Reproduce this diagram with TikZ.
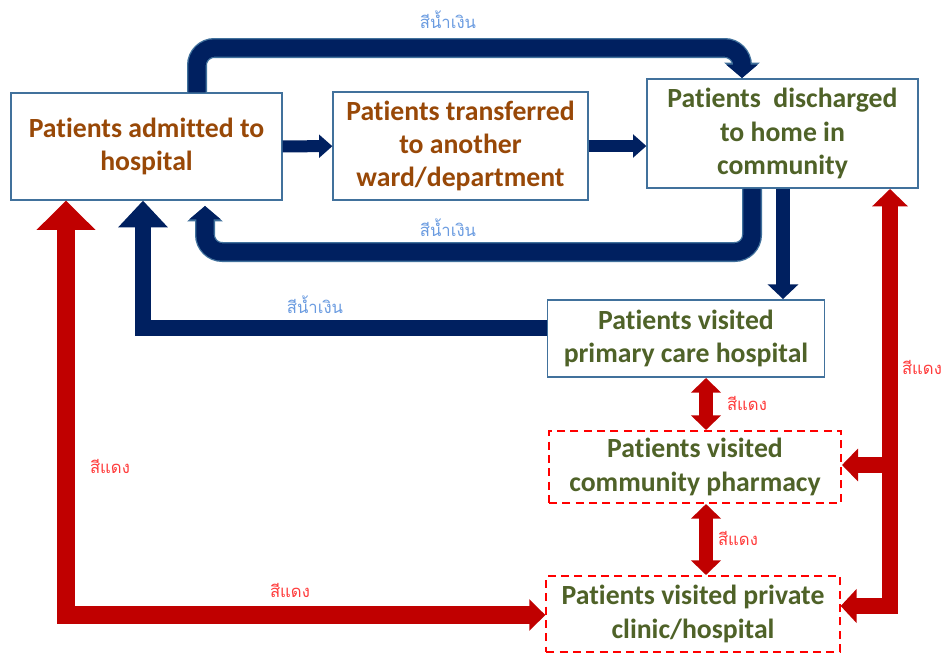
\documentclass[tikz,border=0pt]{standalone}
\usepackage{fontspec}
\setmainfont{Carlito}[Ligatures=NoCommon]
\newfontfamily\thaifont[Script=Thai]{Loma}
\usepackage{tikz}
\usetikzlibrary{positioning, arrows.meta}
\definecolor{aNavy}{HTML}{002060}
\definecolor{aRed}{HTML}{C00000}
\definecolor{bLine}{HTML}{41719C}
\definecolor{dRed}{HTML}{FF0000}
\definecolor{tBrown}{HTML}{984807}
\definecolor{tGreen}{HTML}{4F6228}
\definecolor{lBlue}{HTML}{6A9BE0}
\definecolor{lRed}{HTML}{FF3B3B}
\tikzset{
  stagebox/.style={draw=bLine, line width=1.2pt, fill=white, align=center,
    inner sep=1pt, font=\bfseries\fontsize{20.8}{25}\selectfont},
  wardbox/.style={stagebox, text=tBrown},
  homebox/.style={stagebox, text=tGreen},
  outbox/.style={homebox, draw=dRed, line width=1.5pt, dash pattern=on 6pt off 4pt},
  navyflow/.style={draw=aNavy, line width=9pt, -{Triangle[width=17pt,length=10pt]}},
  navyloop/.style={draw=aNavy, line width=13pt, rounded corners=13pt,
    -{Triangle[width=23pt,length=10pt]},
    preaction={draw=bLine, line width=15pt, -{Triangle[width=26pt,length=11.5pt]}}},
  redflow/.style={draw=aRed, line width=12pt},
  bluetag/.style={font=\thaifont\fontsize{12.5}{14}\selectfont, text=lBlue},
  redtag/.style={font=\thaifont\fontsize{12.5}{14}\selectfont, text=lRed},
}
\begin{document}
\begin{tikzpicture}[x=0.75pt, y=-0.75pt, line join=miter]
  \useasboundingbox (0,0) rectangle (942,654);
  % boxes
  \node[wardbox, minimum width=203pt, minimum height=80pt] (admit) at (146.5,146.5)
    {Patients admitted to\\hospital};
  \node[wardbox, minimum width=191pt, minimum height=81pt] (transfer) at (460.5,146)
    {Patients transferred\\to another\\ward/department};
  \node[homebox, minimum width=203pt, minimum height=82pt] (discharge) at (782.5,133.5)
    {Patients\ \ discharged\\to home in\\community};
  \node[homebox, minimum width=208pt, minimum height=58pt] (primary) at (686,338.5)
    {Patients visited\\primary care hospital};
  \node[outbox, minimum width=219pt, minimum height=54pt] (pharmacy) at (695,467)
    {Patients visited\\community pharmacy};
  \node[outbox, minimum width=220pt, minimum height=57pt] (private) at (693,614)
    {Patients visited private\\clinic/hospital};
  % bend points
  \coordinate (topL) at (197,48);
  \coordinate (topR) at (742,48);
  \coordinate (lowR) at (752,252);
  \coordinate (lowL) at (205,252);
  \coordinate (downC) at (783,250);
  \coordinate (backL) at (143,328);
  \coordinate (redL) at (66,615);
  \coordinate (redR) at (890,606);
  \coordinate (redE) at (890,465);
  \coordinate (midV) at (706,0);
  % blue arrows
  \draw[navyflow] (admit) -- (transfer);
  \draw[navyflow] (transfer.east) -- (discharge.west |- transfer.east);
  \draw[navyloop] (admit.north -| topL) -- (topL) -- (topR) -- (topR |- discharge.north);
  \draw[navyloop] (discharge.south -| lowR) -- (lowR) -- (lowL) -- ([yshift=-4]lowL |- admit.south);
  \draw[draw=aNavy, line width=11pt, -{Triangle[width=22.5pt,length=11pt]}]
    (discharge.south -| downC) -- (primary.north -| downC);
  \draw[draw=aNavy, line width=12pt, -{Triangle[width=36pt,length=20pt]}]
    (primary.west |- backL) -- (backL) -- (backL |- admit.south);
  % red arrows
  \draw[redflow, line width=13pt, {Triangle[width=23pt,length=12pt]}-{Triangle[width=43pt,length=22pt]}]
    (private.west |- redL) -- (redL) -- (redL |- admit.south);
  \draw[redflow, {Triangle[width=25pt,length=12pt]}-{Triangle[width=26pt,length=13pt]}]
    (private.east |- redR) -- (redR) -- (redR |- discharge.south);
  \draw[redflow, -{Triangle[width=24pt,length=12pt]}] (redE) -- (pharmacy.east |- redE);
  \draw[redflow, line width=11pt, {Triangle[width=22pt,length=11pt]}-{Triangle[width=22pt,length=11pt]}]
    (primary.south -| midV) -- (pharmacy.north -| midV);
  \draw[redflow, line width=11pt, {Triangle[width=22pt,length=11pt]}-{Triangle[width=22pt,length=11pt]}]
    (pharmacy.south -| midV) -- (private.north -| midV);
  % labels
  \node[bluetag] (tagTop) at (448,20) {สีน้ำเงิน};
  \node[bluetag] (tagLow) at (448,228) {สีน้ำเงิน};
  \node[bluetag] (tagBack) at (315,305) {สีน้ำเงิน};
  \node[redtag] (tagLeft) at (110,466) {สีแดง};
  \node[redtag] (tagBottom) at (290,590) {สีแดง};
  \node[redtag] (tagUp) at (747,403) {สีแดง};
  \node[redtag] (tagDown) at (738,538) {สีแดง};
  \node[redtag] (tagRight) at (922,367) {สีแดง};
\end{tikzpicture}
\end{document}
